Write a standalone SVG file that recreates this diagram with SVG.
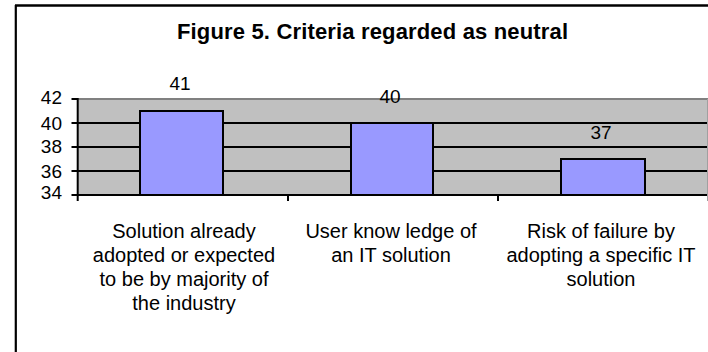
<svg xmlns="http://www.w3.org/2000/svg" width="708" height="352" viewBox="0 0 708 352">
<style>
text{font-family:"Liberation Sans",Arial,sans-serif;fill:#000}
.t{font-size:22px;font-weight:bold}
.ax{font-size:19px;text-anchor:end}
.dl{font-size:19px;text-anchor:middle}
.cl{font-size:20px;text-anchor:middle}
.grid{stroke:#000;stroke-width:2}
.bar{fill:#9999FF;stroke:#000;stroke-width:2}
</style>
<rect width="708" height="352" fill="#fff"/>
<g id="frame">
<line x1="15.8" y1="5" x2="15.8" y2="352" stroke="#000" stroke-width="2.2"/>
<line x1="15" y1="5.5" x2="708" y2="5.5" stroke="#000" stroke-width="2.5"/>
</g>
<g id="title"><text class="t" x="177" y="39" textLength="391" lengthAdjust="spacing">Figure 5. Criteria regarded as neutral</text></g>
<g id="plot">
<rect x="77.7" y="99" width="630.3" height="96" fill="#C0C0C0"/>
<line x1="77.7" y1="99" x2="708" y2="99" stroke="#808080" stroke-width="2"/>
<line class="grid" x1="77.7" y1="123" x2="708" y2="123"/>
<line class="grid" x1="77.7" y1="147" x2="708" y2="147"/>
<line class="grid" x1="77.7" y1="171" x2="708" y2="171"/>
<line class="grid" x1="71.5" y1="195" x2="708" y2="195"/>
<line class="grid" x1="77.7" y1="98" x2="77.7" y2="201"/>
<line class="grid" x1="71.5" y1="99" x2="77.7" y2="99"/>
<line class="grid" x1="71.5" y1="123" x2="77.7" y2="123"/>
<line class="grid" x1="71.5" y1="147" x2="77.7" y2="147"/>
<line class="grid" x1="71.5" y1="171" x2="77.7" y2="171"/>
<line class="grid" x1="288" y1="195" x2="288" y2="201"/>
<line class="grid" x1="498" y1="195" x2="498" y2="201"/>
<line x1="707.5" y1="99" x2="707.5" y2="201" stroke="#A0A0A0" stroke-width="1"/>
</g>
<g id="yaxis">
<text class="ax" x="62" y="104">42</text>
<text class="ax" x="62" y="129.5">40</text>
<text class="ax" x="62" y="153">38</text>
<text class="ax" x="62" y="177.5">36</text>
<text class="ax" x="62" y="199">34</text>
</g>
<g id="bar1">
<rect class="bar" x="140" y="111" width="83" height="84"/>
<text class="dl" x="180" y="90">41</text>
<text class="cl" x="184" y="238">Solution already</text>
<text class="cl" x="184" y="262">adopted or expected</text>
<text class="cl" x="184" y="286">to be by majority of</text>
<text class="cl" x="184" y="310">the industry</text>
</g>
<g id="bar2">
<rect class="bar" x="351" y="123" width="82" height="72"/>
<text class="dl" x="390" y="103">40</text>
<text class="cl" x="391" y="238">User know ledge of</text>
<text class="cl" x="391" y="262">an IT solution</text>
</g>
<g id="bar3">
<rect class="bar" x="561" y="159" width="84" height="36"/>
<text class="dl" x="601" y="139">37</text>
<text class="cl" x="601" y="238">Risk of failure by</text>
<text class="cl" x="601" y="262">adopting a specific IT</text>
<text class="cl" x="601" y="286">solution</text>
</g>
</svg>
